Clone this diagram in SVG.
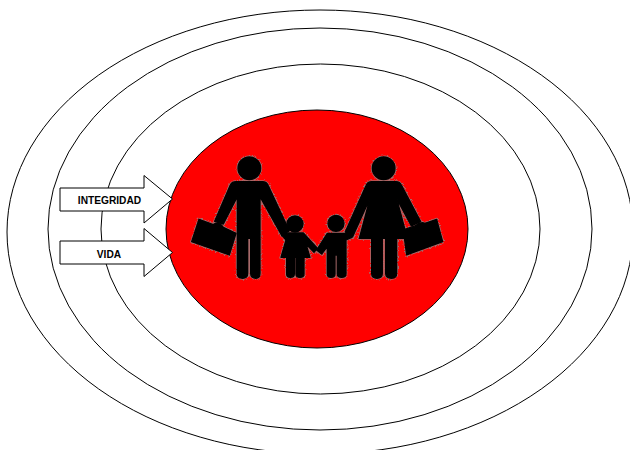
<svg xmlns="http://www.w3.org/2000/svg" width="630" height="450" viewBox="0 0 630 450">
<defs>
<filter id="rough" x="-10%" y="-10%" width="120%" height="120%">
<feTurbulence type="fractalNoise" baseFrequency="0.4" numOctaves="2" seed="4" result="n"/>
<feDisplacementMap in="SourceGraphic" in2="n" scale="12" xChannelSelector="R" yChannelSelector="G"/>
</filter>
</defs>
<style>
.ring{fill:#fff;stroke:#000;stroke-width:1}
.arrow{fill:#fff;stroke:#000;stroke-width:1}
.label{font-family:"Liberation Sans",Arial,sans-serif;font-size:10.200px;font-weight:bold;fill:#000;text-anchor:middle}
.halo{fill:#a86a6a;stroke:#a86a6a;stroke-width:9;stroke-linejoin:round}
.fig{fill:#000;stroke:#000;stroke-width:4;stroke-linejoin:round}
</style>
<rect width="630" height="450" fill="#fff"/>
<g id="ring-outer"><ellipse class="ring" cx="320" cy="232" rx="313" ry="222"/></g>
<g id="ring-middle"><ellipse class="ring" cx="320" cy="229" rx="272" ry="201"/></g>
<g id="ring-inner"><ellipse class="ring" cx="320.500" cy="229" rx="219.500" ry="165"/></g>
<g id="core"><ellipse cx="317" cy="229" rx="151" ry="119" fill="#f00" stroke="#000" stroke-width="1"/></g>
<defs>
<g id="shapes">
<circle cx="208" cy="85" r="34"/>
<path d="M168 125H248Q260 125 265 137L328 272L306 288L240 170V400Q240 415 228 415Q212 415 212 400V295H203V400Q203 415 188 415Q172 415 172 400V170L130 252L104 244L150 137Q155 125 168 125Z"/>
<path d="M57 238L100 254Q116 243 130 262L168 280L148 345L35 305Z"/>
<circle cx="611" cy="85" r="34"/>
<path d="M575 125H648Q660 125 665 137L722 245L694 258L650 175L682 295H650V400Q650 415 635 415Q617 415 617 400V295H607V400Q607 415 591 415Q575 415 575 400V295H538L570 175L518 290L496 275L558 137Q563 125 575 125Z"/>
<path d="M670 270L705 258Q722 244 735 250L770 238L788 305L680 345Z"/>
<circle cx="345" cy="252" r="24"/>
<path d="M306 286L325 279H370L412 325L402 337L378 312L390 352H372V402Q372 412 360 412Q348 412 348 402V352H343V402Q343 412 331 412Q320 412 320 402V352H303L318 300Z"/>
<circle cx="468" cy="250" r="24"/>
<path d="M442 280H496L522 258L516 292L498 300V402Q498 412 485 412Q472 412 472 402V345H465V402Q465 412 453 412Q442 412 442 402V320L425 342L410 330Z"/>
</g>
</defs>
<g id="family" transform="translate(180 140) scale(.3333)">
<use href="#shapes" class="halo" filter="url(#rough)"/>
<use href="#shapes" class="fig"/>
</g>
<g id="connectors">
<g id="arrow-integridad">
<path class="arrow" d="M60 188H144V175.500L172.500 199L144 223V211H60Z"/>
<text class="label" x="109.500" y="204">INTEGRIDAD</text>
</g>
<g id="arrow-vida">
<path class="arrow" d="M60 241H144V228.500L172.500 252.500L144 276.500V264H60Z"/>
<text class="label" x="109" y="257.500">VIDA</text>
</g>
</g>
</svg>
